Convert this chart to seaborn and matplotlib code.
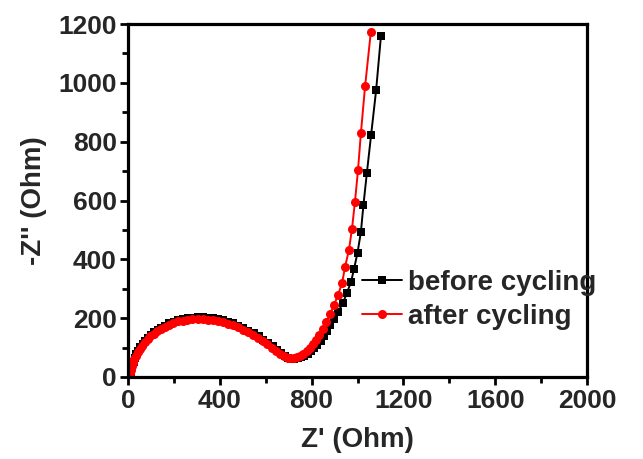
import matplotlib
matplotlib.use("Agg")
import matplotlib.pyplot as plt
import seaborn as sns
from matplotlib.ticker import MultipleLocator

# Nyquist data: Z' (real) and -Z'' (imaginary), in Ohm
before_zre = [10, 12, 15, 19, 24, 30, 37, 45, 54, 64, 75, 87, 100, 114, 129,
              145, 162, 180, 199, 219, 240, 261, 283, 305, 327, 349, 371, 393,
              415, 437, 459, 481, 503, 525, 547, 569, 590, 611, 631, 650, 668,
              685, 699, 712,
              725, 739, 753, 768, 783, 797, 811, 825, 839, 853, 867, 882, 898,
              915, 937, 954, 972, 985, 1000, 1015, 1026, 1041, 1059, 1081, 1102]
before_zim = [0, 13, 26, 39, 52, 65, 77, 89, 101, 112, 123, 133, 143, 152, 160,
              168, 175, 182, 188, 193, 197, 200, 202, 203, 203, 202, 200, 197,
              193, 188, 182, 175, 167, 158, 148, 138, 127, 116, 104, 93, 82,
              72, 65, 61,
              61, 63, 67, 72, 79, 87, 97, 109, 123, 140, 158, 178, 198,
              221, 252, 286, 324, 368, 422, 494, 586, 695, 821, 974, 1158]

after_zre = [8, 10, 13, 17, 22, 28, 35, 43, 52, 62, 73, 85, 98, 112, 127,
             143, 160, 178, 197, 217, 238, 259, 281, 303, 325, 347, 369, 391,
             413, 435, 457, 479, 501, 523, 545, 566, 587, 607, 627, 646, 664,
             681, 695,
             708, 722, 736, 750, 764, 778, 792, 806, 820, 834, 849, 864, 880,
             898, 915, 933, 946, 963, 976, 989, 1002, 1015, 1033, 1058]
after_zim = [0, 12, 24, 36, 48, 60, 72, 84, 96, 107, 118, 128, 138, 147, 156,
             164, 171, 178, 184, 189, 192, 194, 196, 196, 196, 195, 193, 190,
             186, 181, 176, 169, 161, 152, 143, 133, 122, 111, 100, 89, 79,
             70, 64,
             63, 64, 67, 72, 79, 88, 99, 112, 127, 144, 163, 186, 213,
             245, 279, 320, 375, 433, 504, 596, 702, 831, 988, 1172]

series_labels = ["before cycling", "after cycling"]
x_ticks = [0, 400, 800, 1200, 1600, 2000]
y_ticks = [0, 200, 400, 600, 800, 1000, 1200]

sns.set_style("ticks")
plt.rcParams["font.family"] = ["Liberation Sans", "DejaVu Sans"]
plt.rcParams["font.weight"] = "bold"
plt.rcParams["axes.labelweight"] = "bold"

fig = plt.figure(figsize=(6.43, 4.59), dpi=100)
ax = fig.add_axes([128 / 643, 1 - 377 / 459, (587 - 128) / 643, (377 - 24) / 459])

sns.lineplot(x=before_zre, y=before_zim, sort=False, estimator=None,
             color="black", marker="s", markersize=5.5, markeredgewidth=0,
             linewidth=1.4, label=series_labels[0], ax=ax)
sns.lineplot(x=after_zre, y=after_zim, sort=False, estimator=None,
             color="#ff0000", marker="o", markersize=6.5, markeredgewidth=0,
             linewidth=1.4, label=series_labels[1], ax=ax)

ax.set_xlim(0, 2000)
ax.set_ylim(0, 1200)
ax.set_xticks(x_ticks)
ax.set_yticks(y_ticks)
ax.xaxis.set_minor_locator(MultipleLocator(200))
ax.yaxis.set_minor_locator(MultipleLocator(100))

for side in ["left", "bottom", "top", "right"]:
    ax.spines[side].set_visible(True)
    ax.spines[side].set_linewidth(2.3)
    ax.spines[side].set_color("black")

ax.tick_params(which="both", direction="out", width=2.0, color="black",
               top=False, right=False, labelsize=19)
ax.tick_params(axis="x", pad=3)
ax.tick_params(axis="y", pad=2)
ax.tick_params(which="major", length=6)
ax.tick_params(which="minor", length=4)
for lbl in ax.get_xticklabels() + ax.get_yticklabels():
    lbl.set_fontweight("bold")

ax.set_xlabel("Z' (Ohm)", fontsize=20, fontweight="bold", labelpad=10)
ax.set_ylabel("-Z'' (Ohm)", fontsize=20, fontweight="bold", labelpad=8)

leg = ax.legend(loc="center left", bbox_to_anchor=(0.51, 0.218),
                frameon=False, handlelength=1.45,
                handletextpad=0.2, labelspacing=0.28, borderpad=0,
                borderaxespad=0, prop={"weight": "bold", "size": 20})

fig.savefig("out.png", dpi=100, facecolor="white")
